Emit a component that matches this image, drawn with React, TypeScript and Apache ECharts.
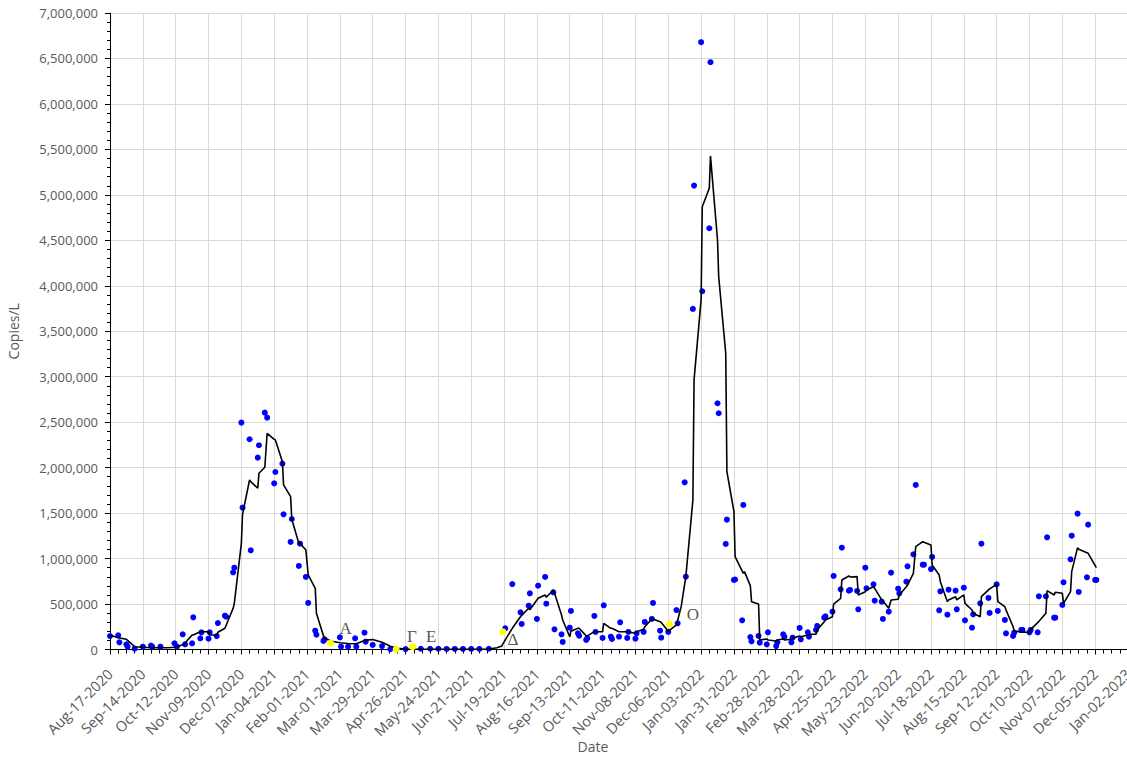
import React, { useEffect, useRef } from "react";
import * as echarts from "echarts";

// Day offsets are counted from the first tick date, Aug-17-2020.
const START_UTC = Date.UTC(2020, 7, 17);
const X_MAX_DAYS = 868; // Jan-02-2023
const TICK_DAYS = 28;
const MONTHS = ["Jan", "Feb", "Mar", "Apr", "May", "Jun", "Jul", "Aug", "Sep", "Oct", "Nov", "Dec"];

// Individual samples: [day offset, copies/L]
const samples: [number, number][] = [
  [0, 148000], [7, 156000], [8, 79000], [14, 57000], [15, 31000], [21, 9000], [28, 31000], [35, 44000], [36, 31000], [43, 31000],
  [55, 68000], [57, 31000], [62, 167000], [64, 57000], [70, 68000], [71, 354000], [77, 123000], [78, 189000], [84, 119000], [85, 189000],
  [91, 148000], [92, 291000], [98, 372000], [99, 361000], [105, 849000], [106, 900000], [112, 2495000], [113, 1560000], [119, 2312000], [120, 1091000],
  [126, 2110000], [127, 2246000], [132, 2605000], [134, 2550000], [140, 1828000], [141, 1952000], [147, 2044000], [148, 1487000], [154, 1183000], [155, 1435000],
  [161, 919000], [162, 1164000], [167, 798000], [169, 512000], [175, 207000], [176, 163000], [182, 94000], [183, 112000], [196, 134000], [197, 31000],
  [203, 31000], [209, 123000], [210, 31000], [217, 185000], [218, 86000], [224, 50000], [232, 38000], [239, 5000], [252, 5000], [265, 8000],
  [273, 8000], [280, 8000], [287, 6000], [294, 6000], [301, 6000], [308, 6000], [315, 6000], [323, 8000], [337, 233000], [343, 720000],
  [350, 409000], [351, 281000], [357, 482000], [358, 618000], [364, 336000], [365, 702000], [371, 798000], [372, 504000], [378, 629000], [379, 222000],
  [385, 167000], [386, 83000], [392, 240000], [393, 424000], [399, 178000], [400, 152000], [406, 105000], [407, 123000], [413, 369000], [414, 193000],
  [420, 127000], [421, 486000], [427, 141000], [428, 116000], [434, 141000], [435, 299000], [441, 127000], [442, 193000], [448, 119000], [449, 178000],
  [455, 193000], [456, 303000], [462, 336000], [463, 512000], [469, 207000], [470, 130000], [476, 193000], [483, 434000], [484, 288000], [490, 1839000],
  [491, 801000], [497, 3746000], [498, 5102000], [504, 6679000], [505, 3940000], [511, 4633000], [512, 6459000], [518, 2708000], [519, 2598000], [525, 1161000],
  [526, 1428000], [532, 765000], [533, 770000], [539, 321000], [540, 1590000], [546, 137000], [547, 90000], [553, 149000], [554, 75000], [560, 57000],
  [561, 189000], [568, 38000], [569, 79000], [574, 167000], [575, 141000], [581, 79000], [582, 130000], [588, 237000], [589, 112000], [595, 189000],
  [596, 141000], [602, 215000], [603, 259000], [609, 350000], [610, 365000], [616, 416000], [617, 809000], [623, 662000], [624, 1120000], [630, 647000],
  [631, 655000], [637, 644000], [638, 442000], [644, 900000], [645, 673000], [651, 717000], [652, 537000], [658, 526000], [659, 336000], [664, 416000],
  [666, 845000], [672, 669000], [673, 618000], [679, 746000], [680, 915000], [685, 1047000], [687, 1810000], [693, 933000], [694, 933000], [700, 885000],
  [701, 1018000], [707, 431000], [708, 640000], [714, 383000], [715, 658000], [721, 647000], [722, 442000], [728, 680000], [729, 321000], [735, 240000],
  [736, 387000], [742, 508000], [743, 1164000], [749, 567000], [750, 402000], [756, 717000], [757, 424000], [763, 325000], [764, 178000], [770, 149000],
  [771, 185000], [777, 215000], [778, 215000], [784, 189000], [785, 215000], [791, 189000], [792, 585000], [798, 585000], [799, 1234000], [805, 350000],
  [806, 350000], [812, 490000], [813, 739000], [819, 992000], [820, 1252000], [825, 1494000], [826, 633000], [833, 794000], [834, 1373000], [840, 765000],
  [841, 765000],
];

// Moving average line: [day offset, copies/L]
const movingAverage: [number, number][] = [
  [0, 160000], [7, 130000], [14, 112000], [21, 31000], [28, 25000], [35, 20000], [42, 20000], [49, 20000], [56, 25000], [63, 57000],
  [70, 160000], [71, 160000], [77, 196000], [78, 196000], [84, 196000], [85, 160000], [91, 160000], [92, 189000], [98, 233000], [105, 453000],
  [106, 508000], [112, 1168000], [113, 1487000], [119, 1865000], [120, 1846000], [126, 1773000], [127, 1938000], [132, 2004000], [134, 2378000], [140, 2312000],
  [141, 2305000], [147, 2066000], [148, 1810000], [154, 1681000], [155, 1432000], [161, 1168000], [162, 1168000], [167, 1095000], [169, 820000], [175, 673000],
  [176, 398000], [182, 150000], [183, 125000], [189, 90000], [196, 75000], [203, 66000], [210, 64000], [217, 100000], [224, 110000], [232, 80000],
  [239, 35000], [245, 13000], [252, 5000], [259, 3000], [266, 3000], [273, 2000], [280, 2000], [287, 2000], [294, 2000], [301, 2000],
  [308, 2000], [315, 2000], [323, 5000], [330, 20000], [334, 38000], [337, 105000], [343, 233000], [350, 361000], [357, 453000], [358, 438000],
  [364, 545000], [365, 563000], [371, 600000], [372, 574000], [378, 655000], [379, 620000], [385, 380000], [386, 325000], [392, 140000], [393, 200000],
  [399, 233000], [400, 233000], [406, 150000], [407, 150000], [413, 196000], [414, 196000], [420, 196000], [421, 288000], [427, 233000], [428, 233000],
  [434, 196000], [441, 196000], [448, 178000], [449, 196000], [455, 222000], [456, 251000], [462, 336000], [463, 336000], [469, 306000], [470, 296000],
  [476, 200000], [477, 210000], [483, 270000], [487, 471000], [491, 801000], [497, 1645000], [498, 2965000], [504, 3845000], [505, 4870000], [511, 5073000],
  [512, 5428000], [518, 4504000], [519, 4101000], [525, 3258000], [526, 1956000], [532, 1516000], [533, 1021000], [540, 838000], [541, 856000], [546, 700000],
  [547, 526000], [553, 500000], [554, 105000], [560, 116000], [561, 105000], [568, 94000], [569, 105000], [574, 116000], [575, 105000], [581, 112000],
  [582, 123000], [588, 149000], [589, 141000], [595, 160000], [596, 167000], [602, 167000], [603, 215000], [609, 306000], [610, 325000], [616, 361000],
  [617, 500000], [623, 563000], [624, 765000], [630, 809000], [631, 798000], [637, 801000], [638, 600000], [644, 636000], [645, 655000], [651, 691000],
  [652, 673000], [658, 545000], [659, 534000], [664, 453000], [666, 545000], [672, 552000], [673, 600000], [679, 691000], [680, 709000], [685, 838000],
  [687, 1131000], [693, 1186000], [694, 1179000], [700, 1150000], [701, 929000], [707, 820000], [708, 746000], [714, 526000], [715, 545000], [721, 581000],
  [722, 545000], [728, 600000], [729, 508000], [735, 434000], [736, 398000], [742, 361000], [743, 581000], [749, 655000], [750, 666000], [756, 717000],
  [757, 526000], [763, 471000], [764, 434000], [770, 251000], [771, 207000], [777, 189000], [784, 189000], [785, 222000], [791, 295000], [798, 398000],
  [799, 647000], [805, 600000], [806, 629000], [812, 618000], [813, 508000], [819, 636000], [820, 856000], [825, 1120000], [826, 1102000], [833, 1065000],
  [834, 1058000], [841, 900000],
];

// Highlighted (variant first detection) samples
const highlighted: [number, number][] = [
  [188, 72000], [244, 3000], [258, 31000], [335, 196000], [477, 281000],
];

// Variant annotations: label, day offset, copies/L
const annotationLabels = ["A", "Γ", "E", "Δ", "O"];
const annotationDays = [201, 257.4, 273.9, 343.5, 496.9];
const annotationValues = [225500, 145000, 145000, 104500, 390000];

const Y_MAX = 7000000;
const Y_STEP = 500000;

function dayLabel(d: number): string {
  const dt = new Date(START_UTC + d * 86400000);
  const dd = String(dt.getUTCDate()).padStart(2, "0");
  return `${MONTHS[dt.getUTCMonth()]}-${dd}-${dt.getUTCFullYear()}`;
}

export default function App() {
  const ref = useRef<HTMLDivElement>(null);
  useEffect(() => {
    if (!ref.current) return;
    const chart = echarts.init(ref.current, null, { renderer: "svg" });
    chart.setOption({
      animation: false,
      backgroundColor: "#ffffff",
      grid: { left: 110, right: -1, top: 13, bottom: 107.5, containLabel: false, outerBoundsMode: "none" },
      xAxis: {
        type: "value",
        min: 0,
        max: X_MAX_DAYS,
        interval: TICK_DAYS,
        name: "Date",
        nameLocation: "middle",
        nameGap: 90,
        nameMoveOverlap: false,
        nameTextStyle: { color: "#595959", fontSize: 14, fontFamily: "Open Sans", padding: [0, 52, 0, 0] },
        axisLine: { show: true, lineStyle: { color: "#000", width: 1 } },
        axisTick: { show: true, length: 5, lineStyle: { color: "#000" } },
        minorTick: { show: true, splitNumber: 4, length: 4, lineStyle: { color: "#000" } },
        splitLine: { show: true, lineStyle: { color: "#d9d9d9", width: 1 } },
        axisLabel: {
          color: "#595959",
          fontSize: 14.5,
          fontFamily: "Open Sans",
          rotate: 45,
          margin: 22,
          showMinLabel: true,
          showMaxLabel: true,
          formatter: (v: number) => dayLabel(v),
        },
      },
      yAxis: {
        type: "value",
        min: 0,
        max: Y_MAX,
        interval: Y_STEP,
        name: "Copies/L",
        nameLocation: "middle",
        nameGap: 90,
        nameMoveOverlap: false,
        nameTextStyle: { color: "#595959", fontSize: 14, fontFamily: "Open Sans" },
        axisLine: { show: true, lineStyle: { color: "#000", width: 1 } },
        axisTick: { show: true, length: 5, lineStyle: { color: "#000" } },
        minorTick: { show: true, splitNumber: 5, length: 3, lineStyle: { color: "#000" } },
        splitLine: { show: true, lineStyle: { color: "#d9d9d9", width: 1 } },
        axisLabel: {
          color: "#595959",
          fontSize: 13,
          fontFamily: "Open Sans",
          margin: 12,
          formatter: (v: number) => v.toLocaleString("en-US"),
        },
      },
      series: [
        {
          type: "scatter",
          name: "Samples",
          data: samples,
          symbol: "circle",
          symbolSize: 6,
          itemStyle: { color: "#0000ff", opacity: 1 },
          z: 2,
        },
        {
          type: "line",
          name: "Moving average",
          data: movingAverage,
          showSymbol: false,
          symbol: "none",
          lineStyle: { color: "#000000", width: 1.6 },
          z: 3,
        },
        {
          type: "scatter",
          name: "Variant",
          data: highlighted,
          symbol: "circle",
          symbolSize: 7,
          itemStyle: { color: "#ffff00", opacity: 1 },
          z: 4,
        },
        {
          type: "scatter",
          name: "Labels",
          data: annotationLabels.map((n, i) => ({ name: n, value: [annotationDays[i], annotationValues[i]] })),
          symbolSize: 2,
          itemStyle: { color: "rgba(0,0,0,0)" },
          label: {
            show: true,
            position: "inside",
            formatter: (p: any) => p.name,
            color: "#262626",
            fontSize: 17,
            fontFamily: "Liberation Serif",
          },
          z: 5,
        },
      ],
    });
    return () => chart.dispose();
  }, []);
  return (
    <div
      ref={ref}
      style={{ position: "fixed", left: 0, top: 0, width: 1127, height: 757, background: "#fff" }}
    />
  );
}
